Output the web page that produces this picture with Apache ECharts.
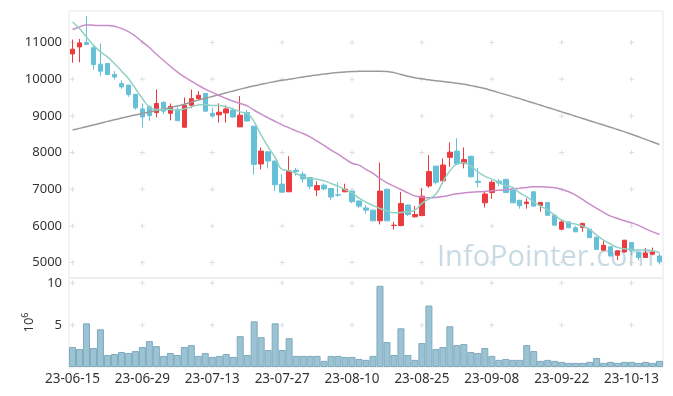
<!DOCTYPE html>
<html><head><meta charset="utf-8">
<script src="https://cdn.jsdelivr.net/npm/echarts@6/dist/echarts.min.js"></script>
<style>html,body{margin:0;padding:0;background:#fff}#c{width:673px;height:396px}</style>
</head><body><div id="c"></div>
<script>
const dates = ["23-06-15","23-06-16","23-06-19","23-06-20","23-06-21","23-06-22","23-06-23","23-06-26","23-06-27","23-06-28","23-06-29",
"23-06-30","23-07-03","23-07-04","23-07-05","23-07-06","23-07-07","23-07-10","23-07-11","23-07-12","23-07-13",
"23-07-14","23-07-17","23-07-18","23-07-19","23-07-20","23-07-21","23-07-24","23-07-25","23-07-26","23-07-27",
"23-07-28","23-07-31","23-08-01","23-08-02","23-08-03","23-08-04","23-08-07","23-08-08","23-08-09","23-08-10",
"23-08-11","23-08-14","23-08-16","23-08-17","23-08-18","23-08-21","23-08-22","23-08-23","23-08-24","23-08-25",
"23-08-28","23-08-29","23-08-30","23-08-31","23-09-01","23-09-04","23-09-05","23-09-06","23-09-07","23-09-08",
"23-09-11","23-09-12","23-09-13","23-09-14","23-09-15","23-09-18","23-09-19","23-09-20","23-09-21","23-09-22",
"23-09-25","23-09-26","23-09-27","23-10-04","23-10-05","23-10-06","23-10-10","23-10-11","23-10-12","23-10-13",
"23-10-16","23-10-17","23-10-18","23-10-19"];

const opens  = [10690,10880,11000,10860,10410,10430,10130,9880,9840,9590,9190,9250,9090,9370,9070,9180,8690,9290,9470,9610,9070,9030,9080,9160,8700,9090,8720,7690,8020,7770,7140,6930,7520,7410,7320,6980,7110,7020,6850,6930,6950,6680,6490,6430,6140,7000,6010,6010,6570,6250,6280,7090,7630,7230,7870,8040,7700,7900,7220,6630,6910,7220,7270,6980,6700,6610,6930,6560,6640,6290,5910,6110,5950,5960,5910,5690,5340,5430,5200,5290,5550,5280,5140,5230,5180];
const closes = [10820,10990,10950,10400,10220,10130,10060,9790,9580,9220,8970,9010,9340,9130,9260,8870,9290,9470,9560,9130,9000,9100,9190,8970,9020,8860,7680,8040,7770,7120,6920,7500,7480,7280,7080,7100,7010,6790,6840,7000,6660,6540,6430,6140,6950,6140,6020,6610,6310,6310,6810,7480,7190,7660,8010,7690,7810,7340,7190,6870,7190,7170,6910,6630,6550,6650,6540,6640,6290,6020,6110,5950,5840,6070,5680,5360,5470,5180,5320,5610,5320,5140,5260,5290,5020];
const lows   = [10450,10460,10940,10260,10090,10120,9990,9740,9520,9170,8680,8870,8960,9050,8880,8860,8680,9210,9440,9120,8950,8820,8820,8950,8700,8860,7400,7540,7570,6950,6920,6930,7370,7180,7000,6810,6970,6700,6790,6920,6620,6490,6330,6130,6040,6130,5900,5990,6270,6220,6270,7040,7130,7150,7610,7690,7570,7320,7050,6500,6740,7090,6900,6620,6470,6470,6530,6390,6280,6010,5880,5940,5830,5840,5670,5350,5330,5170,5070,5280,5200,5070,5130,5200,4950];
const highs  = [11080,11100,11720,10950,10970,10440,10220,9960,9840,9590,9340,9280,9720,9400,9340,9230,9500,9720,9680,9620,9220,9340,9290,9220,9540,9160,8720,8140,8030,7770,7400,7900,7580,7480,7330,7220,7160,7030,7190,7150,6960,6690,6570,6440,7730,7010,6110,6930,6580,6540,7020,7930,7640,7840,8280,8390,8140,7910,7580,6930,7240,7280,7280,6990,6710,6750,6940,6650,6650,6300,6180,6120,6000,6080,5920,5700,5610,5440,5330,5620,5560,5290,5400,5410,5250];

const maShort = [11561,11381,11153,10926,10744,10608,10428,10227,10019,9747,9474,9245,9174,9174,9174,9155,9191,9245,9300,9310,9280,9283,9245,9191,9109,9065,8837,8474,8155,7866,7540,7501,7430,7338,7294,7275,7229,7158,7084,6990,6900,6757,6649,6558,6477,6411,6357,6368,6384,6430,6613,6738,6866,7202,7501,7684,7720,7630,7474,7357,7275,7185,7100,7049,6902,6793,6657,6540,6430,6294,6158,6085,6049,5994,5904,5749,5613,5504,5414,5376,5360,5341,5341,5322,5270];
const maMid   = [11354,11425,11480,11471,11463,11463,11444,11381,11300,11172,11016,10864,10681,10518,10354,10199,10063,9946,9837,9730,9640,9556,9474,9401,9338,9273,9155,9046,8946,8847,8755,8673,8591,8520,8428,8311,8193,8065,7956,7828,7710,7657,7540,7430,7294,7174,7084,6994,6902,6820,6785,6766,6776,6803,6839,6875,6902,6921,6929,6940,6960,6970,6990,7011,7030,7049,7066,7066,7057,7039,6994,6930,6839,6722,6594,6477,6368,6267,6204,6139,6085,6014,5921,5839,5768];
const maLong  = [8615,8660,8705,8750,8800,8850,8895,8940,8985,9025,9065,9105,9145,9185,9225,9270,9320,9375,9430,9480,9530,9580,9630,9680,9730,9775,9820,9860,9900,9935,9970,10000,10030,10060,10090,10115,10140,10165,10185,10200,10210,10215,10220,10220,10220,10210,10180,10130,10080,10040,10010,9985,9960,9940,9915,9890,9860,9825,9790,9745,9690,9635,9580,9525,9470,9410,9350,9290,9230,9170,9110,9050,8990,8930,8870,8810,8750,8690,8630,8565,8500,8430,8360,8290,8220];

const volumeM = [2.38,2.14,5.2,2.26,4.49,1.43,1.55,1.79,1.67,1.9,2.38,3.08,2.49,1.32,1.67,1.43,2.38,2.61,1.32,1.67,1.2,1.32,1.55,1.2,3.67,1.43,5.44,3.55,2.02,5.2,2.02,3.43,1.32,1.32,1.32,1.32,0.73,1.32,1.32,1.2,1.2,0.96,0.85,1.32,9.67,2.96,1.43,4.61,1.43,0.85,2.85,7.32,2.14,2.38,4.85,2.61,2.73,1.79,1.67,2.26,1.32,0.85,0.96,0.85,0.85,2.61,1.9,0.73,0.85,0.73,0.61,0.49,0.49,0.49,0.61,1.08,0.49,0.61,0.49,0.61,0.61,0.49,0.61,0.49,0.73];

const priceTicks = [5000,6000,7000,8000,9000,10000,11000];
const volumeTicks = [5,10];
const labelStep = 10;

const candleData = dates.map((d,i)=>[opens[i],closes[i],lows[i],highs[i]]);
const tickIdx = dates.map((d,i)=>i).filter(i=>i%labelStep===0);
const priceCross = [], volCross = [];
tickIdx.forEach(i=>{ priceTicks.forEach(v=>priceCross.push([i,v])); volumeTicks.forEach(v=>volCross.push([i,v])); });

const UP='#ec3b3e', DOWN='#66c0d8';
const plus='path://M2,0H3V2H5V3H3V5H2V3H0V2H2Z';
const font='"Noto Sans", sans-serif';
const plain = v => String(Math.round(v));

const chart = echarts.init(document.getElementById('c'), null, {renderer:'canvas'});
chart.setOption({
  animation:false,
  backgroundColor:'#fff',
  graphic:[{type:'text', left:437, top:243, z:0, silent:true,
    style:{text:'InfoPointer.com', font:'29px "Open Sans", sans-serif', fill:'#c8dae4'}}],
  grid:[
    {left:69, right:10, top:11, height:267, show:true, borderColor:'#e6e6e6', borderWidth:1},
    {left:69, right:10, top:278, height:89, show:true, borderColor:'#e6e6e6', borderWidth:1}
  ],
  xAxis:[
    {type:'category', gridIndex:0, data:dates, boundaryGap:true, axisLine:{show:false}, axisTick:{show:false}, axisLabel:{show:false}, splitLine:{show:false}},
    {type:'category', gridIndex:1, data:dates, boundaryGap:true, axisLine:{show:false}, axisTick:{show:false}, splitLine:{show:false},
      axisLabel:{interval:labelStep-1, fontSize:13.5, color:'#333', margin:5, fontFamily:font}}
  ],
  yAxis:[
    {type:'value', gridIndex:0, min:4580, max:11860, axisLine:{show:false}, axisTick:{show:false}, splitLine:{show:false},
      axisLabel:{customValues:priceTicks, formatter:plain, fontSize:13, color:'#333', margin:7, fontFamily:font}},
    {type:'value', gridIndex:1, min:0, max:10.6, axisLine:{show:false}, axisTick:{show:false}, splitLine:{show:false},
      axisLabel:{customValues:volumeTicks, formatter:plain, fontSize:13, color:'#333', margin:7, fontFamily:font},
      name:'10{s|6}', nameLocation:'middle', nameRotate:90, nameGap:25,
      nameTextStyle:{fontSize:13, color:'#333', fontFamily:font, rich:{s:{fontSize:9, verticalAlign:'top', color:'#333', padding:[0,0,8,0]}}}}
  ],
  series:[
    {type:'scatter', xAxisIndex:0, yAxisIndex:0, data:priceCross, symbol:plus, symbolSize:5, itemStyle:{color:'#d6d6d6'}, silent:true, z:1},
    {type:'scatter', xAxisIndex:1, yAxisIndex:1, data:volCross, symbol:plus, symbolSize:5, itemStyle:{color:'#d6d6d6'}, silent:true, z:1},
    {type:'candlestick', xAxisIndex:0, yAxisIndex:0, data:candleData, barWidth:5,
      itemStyle:{color:UP, color0:DOWN, borderColor:UP, borderColor0:DOWN, borderWidth:1}, z:3},
    {type:'line', xAxisIndex:0, yAxisIndex:0, data:maLong, symbol:'none', smooth:true, lineStyle:{color:'#9a9a9a', width:1.5}, z:4},
    {type:'line', xAxisIndex:0, yAxisIndex:0, data:maMid, symbol:'none', smooth:true, lineStyle:{color:'#c98dc9', width:1.5}, z:4},
    {type:'line', xAxisIndex:0, yAxisIndex:0, data:maShort, symbol:'none', smooth:true, lineStyle:{color:'#8fd2c4', width:1.5}, z:4},
    {type:'bar', xAxisIndex:1, yAxisIndex:1, data:volumeM, barCategoryGap:'0%', barWidth:'100%',
      itemStyle:{color:'#9cc3d3', borderColor:'#7eaabd', borderWidth:1}, z:3}
  ]
});
</script></body></html>
